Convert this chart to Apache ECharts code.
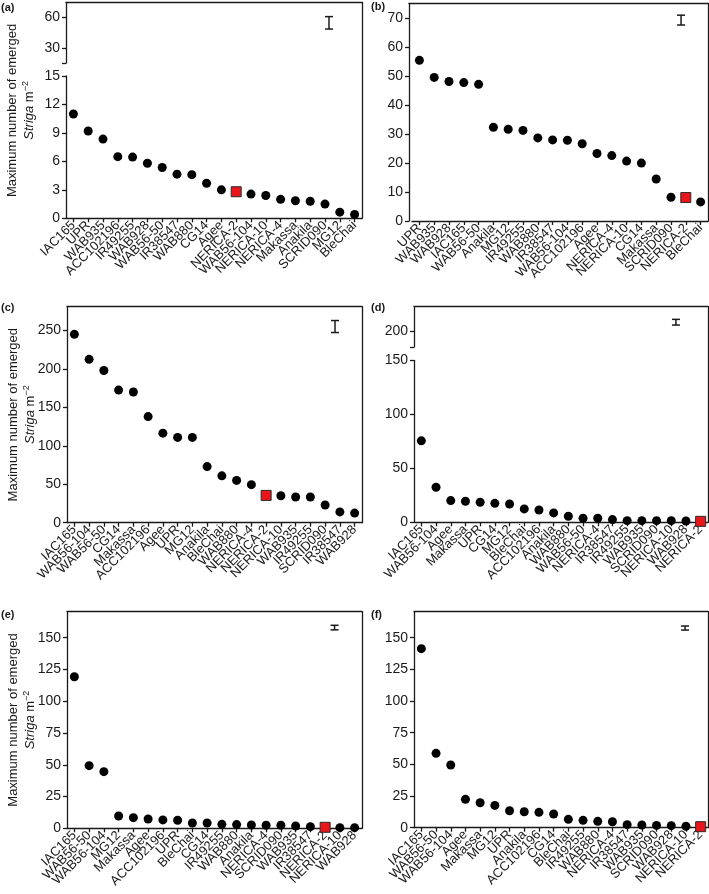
<!DOCTYPE html>
<html><head><meta charset="utf-8">
<script src="https://cdn.jsdelivr.net/npm/echarts@6/dist/echarts.min.js"></script>
<style>html,body{margin:0;padding:0;background:#fff}#c{width:709px;height:894px}</style>
</head><body><div id="c"></div>
<script>
// ---------- data ----------
const catsA = ['IAC165','UPR','WAB935','ACC102196','IR49255','WAB928','WAB56-50','IR38547','WAB880','CG14','Agee','NERICA-2','WAB56-104','NERICA-10','NERICA-4','Makassa','Anakila','SCRID090','MG12','BleChai'];
const valsA = [11.0,9.2,8.35,6.5,6.45,5.8,5.35,4.65,4.6,3.7,3.0,2.8,2.55,2.4,2.0,1.85,1.8,1.5,0.65,0.4];

const catsB = ['UPR','WAB935','WAB928','IAC165','WAB56-50','Anakila','MG12','IR49255','WAB880','IR38547','WAB56-104','ACC102196','Agee','NERICA-4','NERICA-10','CG14','Makassa','SCRID090','NERICA-2','BleChai'];
const valsB = [55.5,49.6,48.2,47.8,47.2,32.4,31.7,31.3,28.7,28.0,27.9,26.7,23.3,22.6,20.7,20.0,14.5,8.2,8.1,6.6];

const catsC = ['IAC165','WAB56-104','WAB56-50','CG14','Makassa','ACC102196','Agee','UPR','MG12','Anakila','BleChai','WAB880','NERICA-4','NERICA-2','NERICA-10','WAB935','IR49255','SCRID090','IR38547','WAB928'];
const valsC = [245,212.5,198,172.5,170,138,116.5,111,111,73,61,55,49.5,35.5,35,33.5,33.5,23,14,12.5];

const catsD = ['IAC165','WAB56-104','Agee','Makassa','UPR','CG14','MG12','BleChai','ACC102196','Anakila','WAB880','WAB56-50','NERICA-4','IR38547','IR49255','WAB935','SCRID090','NERICA-10','WAB928','NERICA-2'];
const valsD = [75.5,32.5,20.1,19.5,18.6,17.6,17.0,12.4,11.4,8.7,5.6,3.8,3.8,2.5,1.5,1.5,1.5,1.5,1.2,0.9];

const catsE = ['IAC165','WAB56-50','WAB56-104','MG12','Makassa','Agee','ACC102196','UPR','BleChai','CG14','IR49255','WAB880','Anakila','NERICA-4','SCRID090','WAB935','IR38547','NERICA-2','NERICA-10','WAB928'];
const valsE = [119.3,49.3,44.6,9.7,8.4,7.3,6.6,6.3,4.2,4.2,3.1,2.9,2.6,2.4,2.4,1.8,1.3,0.8,0.5,0.5];

const catsF = ['IAC165','WAB56-50','WAB56-104','Agee','Makassa','MG12','UPR','Anakila','ACC102196','CG14','BleChai','IR49255','WAB880','NERICA-4','IR38547','WAB935','SCRID090','WAB928','NERICA-10','NERICA-2'];
const valsF = [141.3,58.7,49.5,22.4,19.7,17.6,13.4,12.6,12.1,10.8,6.6,5.8,5.0,4.7,2.4,2.1,1.8,1.6,1.1,0.8];

// LSD error bar per panel (position in category units, low, high)
const errPos  = [17.77, 18.18, 18.17, 17.82, 18.14, 18.44];
const errLow  = [48.7, 67.7, 247.4, 218.6, 156.2, 156.0];
const errHigh = [61.0, 71.1, 263.0, 236.4, 159.8, 159.2];

// tick values / labels
const ticksAUp = [15,30,60],  labelsAUp = [30,60];
const ticksALo = [0,3,6,9,12,15];
const ticksB = [0,10,20,30,40,50,60,70];
const ticksC = [0,50,100,150,200,250];
const ticksDUp = [150,200], labelsDUp = [200];
const ticksDLo = [0,50,100,150];
const ticksEF = [0,25,50,75,100,125,150];
const panelLabels = ['(a)','(b)','(c)','(d)','(e)','(f)'];
const highlight = 'NERICA-2';

// ---------- layout ----------
const FONT = 'Liberation Sans, Arial, Helvetica, sans-serif';
const INK = '#1a1a1a';
const panels = [
  {cats:catsA, vals:valsA, frame:[66,2.5,362,218.3], dataL:66, dataR:362, yOff:0, name:true, lab:[1,2],
   segs:[{t:2.5,b:63,min:15,max:75,ticks:ticksAUp,labels:labelsAUp},{t:76,b:218.3,min:0,max:15,ticks:ticksALo,labels:ticksALo}], errSeg:0},
  {cats:catsB, vals:valsB, frame:[409,3.3,708,221], dataL:412, dataR:708, yOff:3, name:false, lab:[371,1],
   segs:[{t:3.3,b:221,min:0,max:75.2,ticks:ticksB,labels:ticksB}], errSeg:0},
  {cats:catsC, vals:valsC, frame:[67,306.7,362,522.7], dataL:67, dataR:362, yOff:0, name:true, lab:[1,302],
   segs:[{t:306.7,b:522.7,min:0,max:281,ticks:ticksC,labels:ticksC}], errSeg:0},
  {cats:catsD, vals:valsD, frame:[414,306.7,708,522.3], dataL:414, dataR:708, yOff:0, name:false, lab:[371,302],
   segs:[{t:306.7,b:347,min:150,max:276,ticks:ticksDUp,labels:labelsDUp},{t:360.5,b:522.3,min:0,max:150,ticks:ticksDLo,labels:ticksDLo}], errSeg:0},
  {cats:catsE, vals:valsE, frame:[67,611.7,362,828.3], dataL:67, dataR:362, yOff:0, name:true, lab:[1,609],
   segs:[{t:611.7,b:828.3,min:0,max:170.5,ticks:ticksEF,labels:ticksEF}], errSeg:0},
  {cats:catsF, vals:valsF, frame:[414,611.7,708,827.7], dataL:414, dataR:708, yOff:0, name:false, lab:[371,609],
   segs:[{t:611.7,b:827.7,min:0,max:170.5,ticks:ticksEF,labels:ticksEF}], errSeg:0}
];

const grid=[], xAxis=[], yAxis=[], series=[], title=[];
const lineStyle = {color:INK, width:1.3};
const hidden = {axisLine:{show:false}, axisTick:{show:false}, axisLabel:{show:false}, splitLine:{show:false}};

panels.forEach((P,pi)=>{
  title.push({text:panelLabels[pi], left:P.lab[0], top:P.lab[1], padding:0,
    textStyle:{fontSize:11, fontWeight:'bold', color:INK, fontFamily:FONT}});
  const [fl,ft,fr,fb] = P.frame;
  const fg = grid.length;
  grid.push({left:fl, top:ft, width:fr-fl, height:fb-ft});
  xAxis.push(Object.assign({gridIndex:fg, type:'value', position:'top', min:0, max:1}, hidden,
    {axisLine:{show:true, onZero:false, lineStyle}}));
  yAxis.push(Object.assign({gridIndex:fg, type:'value', position:'right', min:0, max:1}, hidden,
    {axisLine:{show:true, onZero:false, lineStyle}}));
  if (P.name) {
    yAxis.push(Object.assign({gridIndex:fg, type:'value', position:'left', min:0, max:1}, hidden, {
      name:'Maximum number of emerged\n{it|Striga} m{sup|\u22122}',
      nameLocation:'middle', nameGap:28,
      nameTextStyle:{fontSize:13, color:INK, fontFamily:FONT, lineHeight:17, align:'center',
        rich:{it:{fontStyle:'italic', fontSize:13, color:INK, fontFamily:FONT, lineHeight:17},
              sup:{fontSize:9, color:INK, fontFamily:FONT, lineHeight:17, verticalAlign:'top', padding:[0,0,6,0]}}}
    }));
  }
  P.segs.forEach((S,si)=>{
    const g = grid.length;
    grid.push({left:P.dataL, top:S.t, width:P.dataR-P.dataL, height:S.b-S.t});
    const isBottom = si === P.segs.length-1;
    const xc = xAxis.length;
    xAxis.push({gridIndex:g, type:'category', data:P.cats, show:isBottom, position:'bottom', boundaryGap:true,
      axisLine:{show:true, onZero:false, lineStyle},
      axisTick:{show:true, alignWithLabel:true, length:4, lineStyle},
      axisLabel:{interval:0, rotate:45, fontSize:13, color:INK, fontFamily:FONT, margin:5},
      splitLine:{show:false}});
    const xv = xAxis.length;
    xAxis.push({gridIndex:g, type:'value', show:false, min:0, max:P.cats.length, position:'top'});
    const yi = yAxis.length;
    yAxis.push({gridIndex:g, type:'value', position:'left', min:S.min, max:S.max, offset:P.yOff,
      axisLine:{show:true, onZero:false, lineStyle},
      axisTick:{show:true, length:4, lineStyle, customValues:S.ticks},
      axisLabel:{customValues:S.labels, fontSize:14, color:INK, fontFamily:FONT, margin:6},
      splitLine:{show:false}});
    if (isBottom) {
      series.push({type:'scatter', xAxisIndex:xc, yAxisIndex:yi, symbol:'circle', symbolSize:9,
        itemStyle:{color:'#000', opacity:1}, z:3, silent:true,
        data:P.vals.map((v,i)=> P.cats[i]===highlight ?
          {value:v, symbol:'rect', symbolSize:10, z:5, itemStyle:{color:'#e8161b', borderColor:'#2a2a2a', borderWidth:1}} : v)});
    }
    if (si === P.errSeg) {
      series.push({type:'custom', xAxisIndex:xv, yAxisIndex:yi, silent:true, clip:false,
        data:[[errPos[pi], errLow[pi], errHigh[pi]]],
        encode:{x:0, y:[1,2]},
        renderItem:(params, api)=>{
          const x = api.value(0);
          const a = api.coord([x, api.value(1)]);
          const b = api.coord([x, api.value(2)]);
          const w = 4;
          const st = {stroke:INK, lineWidth:1.5};
          return {type:'group', children:[
            {type:'line', shape:{x1:a[0], y1:a[1], x2:b[0], y2:b[1]}, style:st},
            {type:'line', shape:{x1:a[0]-w, y1:a[1], x2:a[0]+w, y2:a[1]}, style:st},
            {type:'line', shape:{x1:b[0]-w, y1:b[1], x2:b[0]+w, y2:b[1]}, style:st}
          ]};
        }});
    }
  });
});

const chart = echarts.init(document.getElementById('c'), null, {renderer:'canvas'});
chart.setOption({animation:false, backgroundColor:'#fff', title, grid, xAxis, yAxis, series});
</script>
</body></html>
